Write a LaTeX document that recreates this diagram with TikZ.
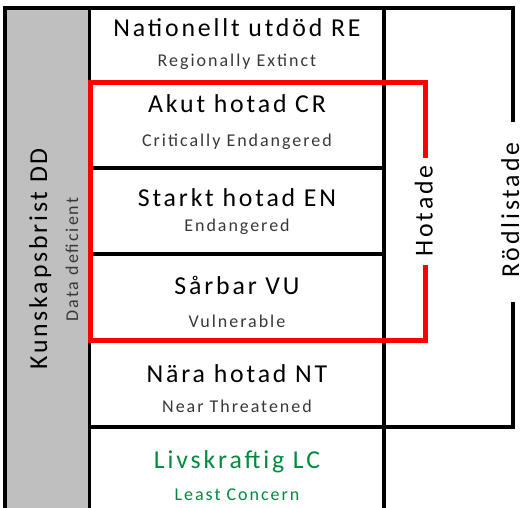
\documentclass[tikz,border=0pt]{standalone}
\usepackage{fontspec}
\setmainfont[LetterSpace=11]{Carlito}
\usepackage{tikz}
\definecolor{ddgray}{RGB}{191,191,191}
\definecolor{lcgreen}{RGB}{0,138,62}
\definecolor{subgray}{RGB}{56,56,56}
\definecolor{hotred}{RGB}{255,0,0}

\begin{document}
\begin{tikzpicture}[x=1pt, y=-1pt,
  title/.style={anchor=base, inner sep=0pt, font=\fontsize{25.8}{30}\selectfont},
  sub/.style={anchor=base, inner sep=0pt, text=subgray, font=\fontsize{18}{21}\selectfont},
  side/.style={anchor=base, inner sep=0pt, rotate=90, font=\fontsize{25.8}{30}\selectfont},
  frame/.style={line width=3.4pt}]
\useasboundingbox (0,0) rectangle (523,508);
\fill[ddgray] (5,8) rectangle (89.5,508);
% categories
\node[title] (re) at (237,36.7) {Nationellt utdöd RE};
\node[sub] (re-en) at (237,66.7) {Regionally Extinct};
\node[title] (cr) at (237,113) {Akut hotad CR};
\node[sub] (cr-en) at (237,147) {Critically Endangered};
\node[title] (en) at (237,207) {Starkt hotad EN};
\node[sub] (en-en) at (237,232) {Endangered};
\node[title] (vu) at (237,295) {Sårbar VU};
\node[sub] (vu-en) at (237,327) {Vulnerable};
\node[title] (nt) at (237,382) {Nära hotad NT};
\node[sub] (nt-en) at (237,413) {Near Threatened};
\node[title, text=lcgreen] (lc) at (237,468) {Livskraftig LC};
\node[sub, text=lcgreen] (lc-en) at (237,500) {Least Concern};
% side labels
\node[side] (dd) at (47,259) {Kunskapsbrist DD};
\node[side, font=\fontsize{18}{21}\selectfont, text=subgray] (dd-en) at (78,259.5) {Data deficient};
\node[side] (hotade) at (432.7,211) {Hotade};
\node[side] (rodlistade) at (519,210) {Rödlistade};
% frame
\draw[frame] (5,508) -- (5,8) -- (513,8) -- (513,122);
\draw[frame] (513,302) -- (513,427) -- (89.5,427);
\draw[frame] (89.5,8) -- (89.5,508);
\draw[frame] (384,8) -- (384,508);
\draw[frame] (89.5,168) -- (384,168);
\draw[frame] (89.5,254) -- (384,254);
\draw[frame] (89.5,341) -- (384,341);
% threatened
\draw[hotred, line width=5pt] (425,158) -- (425,82.5) -- (90.5,82.5) -- (90.5,340.5) -- (425,340.5) -- (425,265);
\end{tikzpicture}
\end{document}
